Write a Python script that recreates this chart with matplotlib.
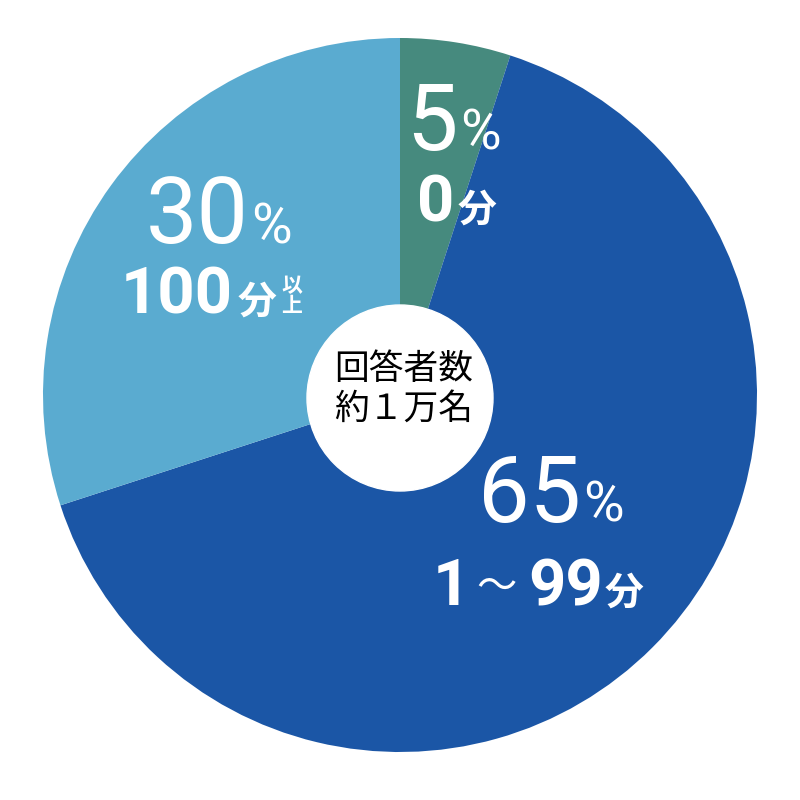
import matplotlib.pyplot as plt
from matplotlib.patches import Circle

# data
values = [5, 65, 30]
minutes = ["0", "1", "100"]
colors = ["#468A7E", "#1B56A6", "#5AABD0"]
center_lines = ["回答者数", "約１万名"]

NUM = ["Roboto", "DejaVu Sans"]
JP = ["Noto Sans CJK JP", "DejaVu Sans"]

fig = plt.figure(figsize=(8, 8), dpi=100)
ax = fig.add_axes([0, 0, 1, 1])

# y axis is flipped, so start at -90 and go "counterclockwise" = clockwise on screen
ax.pie(values, colors=colors, startangle=-90, counterclock=True,
       center=(400, 395), radius=357, frame=True,
       wedgeprops=dict(linewidth=0))
ax.set_xlim(0, 800)
ax.set_ylim(800, 0)  # pixel coords, y down
ax.set_aspect("equal")
ax.axis("off")

ax.add_patch(Circle((400, 398), 93, color="white", zorder=3))
ax.text(404, 369, center_lines[0], ha="center", va="center", fontsize=25,
        family=JP, color="black", zorder=4)
ax.text(404, 409, center_lines[1], ha="center", va="center", fontsize=25,
        family=JP, color="black", zorder=4)


def pct_label(x_split, y_base, v):
    ax.text(x_split, y_base, str(v), ha="right", va="baseline", fontsize=66,
            family=NUM, color="white", zorder=4)
    ax.text(x_split + 2, y_base, "%", ha="left", va="baseline", fontsize=40,
            family=NUM, color="white", zorder=4)


def bold(x, y, s, size, fam=NUM, ha="right"):
    ax.text(x, y, s, ha=ha, va="baseline", fontsize=size, family=fam,
            fontweight="bold", color="white", zorder=4)


pct_label(458, 150, values[0])
bold(454, 222, minutes[0], 47)
bold(458, 222, "分", 28, JP, "left")

pct_label(581, 522, values[1])
bold(470, 605, minutes[1], 47)
ax.text(496, 599, "～", ha="center", va="baseline", fontsize=29, family=JP,
        color="white", zorder=4)
bold(603, 605, "99", 47)
bold(605, 605, "分", 28, JP, "left")

pct_label(249, 243, values[2])
bold(233, 314, minutes[2], 47)
bold(238, 314, "分", 28, JP, "left")
bold(281, 292, "以", 15, JP, "left")
bold(281, 312, "上", 15, JP, "left")

fig.savefig("out.png", dpi=100)
